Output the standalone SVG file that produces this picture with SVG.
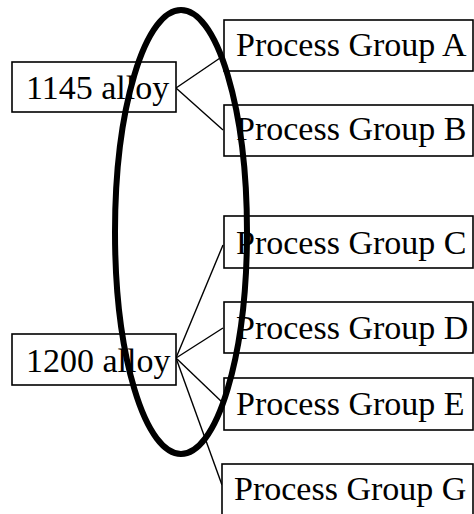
<svg xmlns="http://www.w3.org/2000/svg" width="474" height="514" viewBox="0 0 474 514">
  <style>
    .box { fill: #fff; stroke: #000; stroke-width: 1.6; }
    .lbl { font-family: "Liberation Serif", "Times New Roman", serif; font-size: 34px; fill: #000; }
    .link { stroke: #000; stroke-width: 1.4; fill: none; }
    .ring { stroke: #000; stroke-width: 6; fill: none; }
  </style>
  <rect width="474" height="514" fill="#fff"/>

  <g id="connectors">
    <line class="link" x1="176" y1="88" x2="223" y2="56"/>
    <line class="link" x1="176" y1="88" x2="223" y2="130"/>
    <line class="link" x1="176" y1="358" x2="223" y2="245"/>
    <line class="link" x1="176" y1="358" x2="223" y2="328"/>
    <line class="link" x1="176" y1="358" x2="223" y2="403"/>
    <line class="link" x1="176" y1="358" x2="222" y2="485"/>
  </g>

  <g id="alloy-1145">
    <rect class="box" x="12" y="62" width="164" height="50"/>
    <text class="lbl" x="26" y="99">1145 alloy</text>
  </g>
  <g id="alloy-1200">
    <rect class="box" x="12" y="334" width="164" height="51"/>
    <text class="lbl" x="26" y="372">1200 alloy</text>
  </g>

  <g id="group-a">
    <rect class="box" x="224" y="20" width="249" height="51"/>
    <text class="lbl" x="236" y="56">Process Group A</text>
  </g>
  <g id="group-b">
    <rect class="box" x="224" y="105" width="249" height="51"/>
    <text class="lbl" x="236" y="140">Process Group B</text>
  </g>
  <g id="group-c">
    <rect class="box" x="224" y="216" width="249" height="52"/>
    <text class="lbl" x="236" y="254">Process Group C</text>
  </g>
  <g id="group-d">
    <rect class="box" x="224" y="302" width="249" height="51"/>
    <text class="lbl" x="236" y="339">Process Group D</text>
  </g>
  <g id="group-e">
    <rect class="box" x="224" y="378" width="249" height="52"/>
    <text class="lbl" x="236" y="415">Process Group E</text>
  </g>
  <g id="group-g">
    <rect class="box" x="222" y="464" width="251" height="70"/>
    <text class="lbl" x="234" y="500">Process Group G</text>
  </g>

  <g id="highlight">
    <ellipse class="ring" cx="181" cy="232" rx="66" ry="222"/>
  </g>
</svg>
